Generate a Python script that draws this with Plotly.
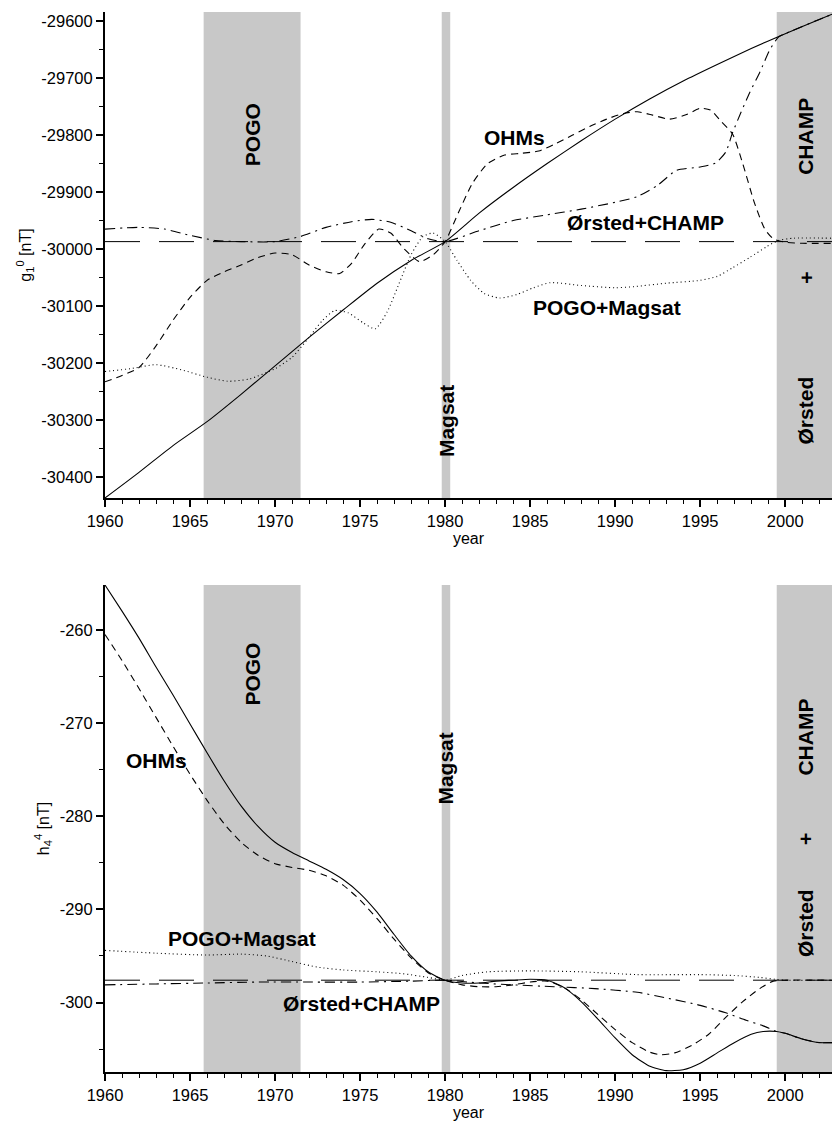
import plotly.graph_objects as go

# ---------------- data ----------------
years_top = [1960, 1962, 1964, 1966, 1968, 1970, 1972, 1974, 1976, 1978, 1980,
             1982, 1984, 1986, 1988, 1990, 1992, 1994, 1996, 1998, 2000, 2002, 2002.75]
g10_true = [-30437, -30392, -30345, -30303, -30255, -30205, -30155, -30107, -30060,
            -30020, -29987, -29937, -29892, -29850, -29810, -29772, -29737, -29705,
            -29676, -29648, -29622, -29597, -29588]

ohm_top_x = [1960, 1961, 1962, 1963, 1964, 1965, 1966, 1967, 1968, 1969, 1970, 1971,
             1972, 1973, 1973.8, 1974.5, 1975.3, 1976.1, 1976.8, 1977.6, 1978.5, 1979.3,
             1980, 1980.8, 1981.6, 1982.5, 1983.5, 1984.5, 1985.5, 1986.5, 1987.5,
             1988.5, 1989.5, 1990.5, 1991.3, 1992.2, 1993.2, 1994.2, 1995.0, 1995.6,
             1996.2, 1996.9, 1997.5, 1998.2, 1998.8, 1999.3, 2000, 2001, 2002.75]
ohm_top_y = [-30233, -30222, -30208, -30170, -30125, -30085, -30055, -30040, -30028,
             -30015, -30007, -30010, -30028, -30040, -30043, -30025, -29990, -29965,
             -29972, -30000, -30022, -30010, -29987, -29935, -29885, -29850, -29835,
             -29832, -29828, -29815, -29800, -29785, -29772, -29762, -29759, -29765,
             -29772, -29764, -29753, -29756, -29775, -29798, -29850, -29920, -29965,
             -29982, -29988, -29990, -29990]

oc_top_x = [1960, 1962, 1963.5, 1965, 1966.5, 1968, 1970, 1971.5, 1973, 1974.5, 1975.7,
            1976.8, 1978, 1979, 1980, 1982, 1984, 1986, 1988, 1990, 1991.3, 1992.5,
            1993.6, 1995, 1995.9, 1996.5, 1996.9, 1997.4, 1997.9, 1998.5, 1999.1,
            1999.6, 2000, 2002, 2002.75]
oc_top_y = [-29965, -29962, -29965, -29976, -29985, -29987, -29987, -29978, -29962,
            -29952, -29948, -29953, -29968, -29982, -29987, -29968, -29950, -29940,
            -29930, -29918, -29908, -29888, -29862, -29856, -29849, -29830, -29796,
            -29760, -29726, -29690, -29650, -29628, -29622, -29597, -29588]

pm_top_x = [1960, 1961.5, 1963, 1964.5, 1966, 1967.2, 1968.5, 1970, 1971, 1972,
            1972.8, 1973.5, 1974.3, 1975.2, 1975.9, 1976.6, 1977.3, 1978, 1978.7,
            1979.3, 1980, 1980.7, 1981.5, 1982.3, 1983.2, 1984.2, 1985.2, 1986.2,
            1988, 1990, 1991.1, 1993, 1995, 1996, 1996.9, 1997.9, 1998.9, 1999.6,
            2000.5, 2002.75]
pm_top_y = [-30215, -30210, -30203, -30212, -30225, -30232, -30228, -30210, -30190,
            -30155, -30125, -30108, -30112, -30130, -30140, -30110, -30060, -30010,
            -29978, -29972, -29987, -30020, -30055, -30078, -30086, -30080, -30068,
            -30059, -30064, -30068, -30066, -30060, -30055, -30048, -30033, -30015,
            -29996, -29985, -29981, -29981]

ref_top = -29987

years_bot = [1960, 1961, 1962, 1963, 1964, 1965, 1966, 1967, 1968, 1969, 1970, 1971,
             1972, 1973, 1974, 1975, 1976, 1977, 1978, 1979, 1980, 1981, 1982, 1983,
             1984, 1985, 1986, 1987, 1988, 1989, 1990, 1991, 1992, 1993, 1994, 1995,
             1996, 1997, 1998, 1998.7, 1999.5, 2000, 2001, 2002, 2002.75]
h44_true = [-255.2, -258.0, -260.9, -264.0, -267.0, -270.1, -273.2, -276.2, -278.9,
            -281.1, -282.8, -283.9, -284.8, -285.7, -286.8, -288.3, -290.3, -292.7,
            -295.0, -296.7, -297.6, -297.9, -297.9, -297.7, -297.6, -297.5, -297.6,
            -298.4, -299.9, -301.8, -303.8, -305.6, -306.8, -307.3, -307.2, -306.5,
            -305.4, -304.3, -303.4, -303.1, -303.1, -303.3, -303.9, -304.3, -304.3]

ohm_bot_x = [1960, 1961, 1962, 1963, 1964, 1965, 1966, 1967, 1968, 1969, 1970, 1971,
             1972, 1973, 1974, 1975, 1976, 1977, 1978, 1979, 1980, 1981, 1982, 1983,
             1984, 1985, 1986, 1987, 1988, 1989, 1990, 1991, 1992, 1992.7, 1993.5,
             1994.5, 1995.5, 1996.5, 1997.5, 1998.5, 1999.3, 2000, 2002.75]
ohm_bot_y = [-260.5, -263.3, -266.3, -269.4, -272.5, -275.5, -278.3, -280.8, -282.8,
             -284.2, -285.1, -285.5, -285.8, -286.4, -287.4, -289.0, -291.0, -293.2,
             -295.2, -296.8, -297.6, -298.1, -298.3, -298.3, -298.1, -297.8, -297.7,
             -298.4, -299.7, -301.3, -302.9, -304.3, -305.3, -305.6, -305.4, -304.6,
             -303.4, -301.6, -299.9, -298.5, -297.7, -297.6, -297.6]

oc_bot_x = [1960, 1963, 1966, 1969, 1972, 1975, 1978, 1980, 1982, 1984, 1986.4,
            1988.8, 1991.3, 1993, 1995, 1996.5, 1997.7, 1998.7, 1999.5, 2000, 2001,
            2002, 2002.75]
oc_bot_y = [-298.1, -298.0, -297.9, -297.8, -297.8, -297.8, -297.7, -297.6, -297.9,
            -298.1, -298.3, -298.5, -298.9, -299.5, -300.3, -301.1, -301.9, -302.5,
            -303.1, -303.3, -303.9, -304.3, -304.3]

pm_bot_x = [1960, 1963, 1966, 1968, 1969.5, 1971, 1972.5, 1974, 1976, 1977.5, 1979,
            1980, 1981, 1982.5, 1985, 1988, 1991.3, 1995, 1997, 1998.5, 1999.4, 2000,
            2002.75]
pm_bot_y = [-294.4, -294.7, -294.9, -294.8, -295.0, -295.6, -296.2, -296.5, -296.7,
            -296.9, -297.3, -297.6, -297.1, -296.7, -296.6, -296.7, -297.0, -297.0,
            -297.1, -297.3, -297.5, -297.6, -297.6]

ref_bot = -297.6
x_range = [1960, 2002.75]

bands = [(1965.8, 1971.5), (1979.8, 1980.3), (1999.5, 2002.75)]

top_ticks = [-29600, -29700, -29800, -29900, -30000, -30100, -30200, -30300, -30400]
bot_ticks = [-260, -270, -280, -290, -300]
x_ticks = [1960, 1965, 1970, 1975, 1980, 1985, 1990, 1995, 2000]

# ---------------- figure ----------------
FONT = "Liberation Sans, Arial, Helvetica, sans-serif"
fig = go.Figure()

def add_line(x, y, dash, xa, ya, w=1.1):
    fig.add_trace(go.Scatter(x=x, y=y, mode="lines", xaxis=xa, yaxis=ya,
                             line=dict(color="black", width=w, dash=dash, shape="spline",
                                       smoothing=0.6),
                             showlegend=False, hoverinfo="skip"))

# top panel
add_line(x_range, [ref_top, ref_top], "35px,19px", "x", "y", 1.0)
add_line(pm_top_x, pm_top_y, "1px,3px", "x", "y")
add_line(oc_top_x, oc_top_y, "10px,5px,2px,5px", "x", "y")
add_line(ohm_top_x, ohm_top_y, "7px,5px", "x", "y")
add_line(years_top, g10_true, "solid", "x", "y")

# bottom panel
add_line(x_range, [ref_bot, ref_bot], "35px,19px", "x2", "y2", 1.0)
add_line(pm_bot_x, pm_bot_y, "1px,3px", "x2", "y2")
add_line(oc_bot_x, oc_bot_y, "10px,5px,2px,5px", "x2", "y2")
add_line(ohm_bot_x, ohm_bot_y, "7px,5px", "x2", "y2")
add_line(years_bot, h44_true, "solid", "x2", "y2")

shapes = []
for xa, ya in (("x", "y"), ("x2", "y2")):
    for x0, x1 in bands:
        shapes.append(dict(type="rect", xref=xa, yref=f"{ya} domain", x0=x0, x1=x1,
                           y0=0, y1=1, fillcolor="#c8c8c8", line=dict(width=0),
                           layer="below"))

def ann(x, y, text, xa, ya, angle=0, size=21):
    return dict(x=x, y=y, xref=xa, yref=ya, text=f"<b>{text}</b>", showarrow=False,
                textangle=angle, font=dict(family=FONT, size=size, color="black"))

annotations = [
    # top panel
    ann(1968.65, -29800, "POGO", "x", "y", -90),
    ann(1980.05, -30302, "Magsat", "x", "y", -90),
    ann(2001.2, -29802, "CHAMP", "x", "y", -90),
    ann(2001.2, -30051, "+", "x", "y", -90),
    ann(2001.2, -30284, "Ørsted", "x", "y", -90),
    ann(1984.1, -29805, "OHMs", "x", "y"),
    ann(1991.76, -29954, "Ørsted+CHAMP", "x", "y"),
    ann(1989.53, -30102, "POGO+Magsat", "x", "y"),
    # bottom panel
    ann(1968.65, -264.8, "POGO", "x2", "y2", -90),
    ann(1980.05, -274.9, "Magsat", "x2", "y2", -90),
    ann(2001.2, -271.5, "CHAMP", "x2", "y2", -90),
    ann(2001.2, -282.5, "+", "x2", "y2", -90),
    ann(2001.2, -291.5, "Ørsted", "x2", "y2", -90),
    ann(1963.0, -274.0, "OHMs", "x2", "y2"),
    ann(1968.04, -293.1, "POGO+Magsat", "x2", "y2"),
    ann(1975.1, -300.06, "Ørsted+CHAMP", "x2", "y2"),
]

tickfont = dict(family=FONT, size=16.5, color="black")
titlefont = dict(family=FONT, size=16, color="black")

def xaxis(anchor):
    return dict(range=x_range, anchor=anchor, showline=True, linecolor="black",
                linewidth=2, ticks="outside", ticklen=7, tickwidth=1.5,
                tickcolor="black", tickmode="array", tickvals=x_ticks,
                ticktext=[str(v) for v in x_ticks], tickfont=tickfont,
                showgrid=False, zeroline=False, mirror=False,
                title=dict(text="year", font=titlefont, standoff=4),
                minor=dict(ticks="outside", ticklen=4, tickwidth=1, tickcolor="black",
                           tickmode="array", tickvals=list(range(1960, 2003))))

def yaxis(anchor, rng, ticks, minor_vals, domain, title):
    return dict(range=rng, domain=domain, anchor=anchor, showline=True,
                linecolor="black", linewidth=2, ticks="outside", ticklen=7,
                tickwidth=1.5, tickcolor="black", tickmode="array", tickvals=ticks,
                ticktext=[str(v) for v in ticks], tickfont=tickfont, showgrid=False,
                zeroline=False, title=dict(text=title, font=titlefont, standoff=6),
                minor=dict(ticks="outside", ticklen=4, tickwidth=1, tickcolor="black",
                           tickmode="array", tickvals=minor_vals))

top_minor = list(range(-30400, -29550, 50))
bot_minor = list(range(-305, -254, 5))

fig.update_layout(
    width=833, height=1129,
    margin=dict(l=105, r=1, t=12, b=57),
    paper_bgcolor="white", plot_bgcolor="white",
    font=dict(family=FONT, color="black"),
    xaxis=xaxis("y"),
    yaxis=yaxis("x", [-30437, -29584], top_ticks, top_minor, [0.5415, 1.0],
                "g<sub>1</sub><sup>0</sup> [nT]"),
    xaxis2=xaxis("y2"),
    yaxis2=yaxis("x2", [-307.45, -255.2], bot_ticks, bot_minor, [0.0, 0.4594],
                 "h<sub>4</sub><sup>4</sup> [nT]"),
    shapes=shapes,
    annotations=annotations,
)

fig.write_html("out.html")
